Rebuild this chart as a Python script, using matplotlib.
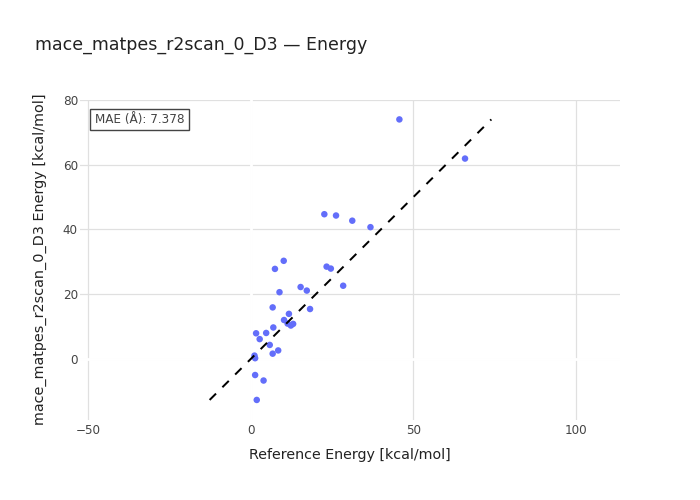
import matplotlib
matplotlib.use("Agg")
import matplotlib.pyplot as plt
import numpy as np

title = "mace_matpes_r2scan_0_D3 \u2014 Energy"
x_label = "Reference Energy [kcal/mol]"
y_label = "mace_matpes_r2scan_0_D3 Energy [kcal/mol]"
mae_text = "MAE (\u00c5): 7.378"

ref_energy = [10.1, 7.4, 23.3, 24.6, 8.8, 15.3, 17.2, 6.7, 18.2, 11.7, 10.2, 11.3, 12.3,
              13.0, 6.9, 1.6, 4.7, 2.7, 5.8, 8.4, 6.7, 1.1, 1.3, 1.3, 3.9, 1.8, 45.7, 65.9,
              22.6, 26.2, 31.2, 36.8, 28.4]
pred_energy = [30.3, 27.8, 28.5, 27.9, 20.6, 22.2, 21.1, 15.9, 15.4, 13.9, 12.0, 10.9, 10.3,
               10.8, 9.7, 7.9, 8.0, 6.1, 4.3, 2.6, 1.6, 1.0, 0.2, -5.0, -6.7, -12.7, 74.0, 61.9,
               44.7, 44.3, 42.7, 40.7, 22.6]

x_ticks = [-50, 0, 50, 100]
y_ticks = [0, 20, 40, 60, 80]

plt.rcParams['font.family'] = ['DejaVu Sans']
W, H = 700, 500
fig = plt.figure(figsize=(W / 100, H / 100), dpi=100)
fig.patch.set_facecolor('white')
ax = fig.add_axes([80 / W, 80 / H, 540 / W, 320 / H])
ax.set_facecolor('white')

ax.set_xlim(-52.6, 113.6)
ax.set_ylim(-18.9, 79.9)
ax.set_xticks(x_ticks)
ax.set_yticks(y_ticks)
ax.set_xticklabels([str(t).replace('-', '\u2212') for t in x_ticks])
ax.set_yticklabels([str(t) for t in y_ticks])
ax.tick_params(length=0, labelsize=8.64, colors='#444444')
ax.tick_params(axis='x', pad=3)
ax.tick_params(axis='y', pad=1.5)
for s in ax.spines.values():
    s.set_visible(False)
ax.grid(True, color='#e0e0e0', linewidth=0.9)
ax.set_axisbelow(True)
ax.axvline(0, color='white', linewidth=2, zorder=1.5)
ax.axhline(0, color='white', linewidth=2, zorder=1.5)

ax.scatter(ref_energy, pred_energy, s=(6.5 * 0.72) ** 2, color='#636efa',
           edgecolors='none', zorder=3)

lo = min(min(ref_energy), min(pred_energy))
hi = max(max(ref_energy), max(pred_energy))
ax.plot([lo, hi], [lo, hi], color='black', linewidth=1.44,
        linestyle=(0, (4.5, 4.5)), zorder=4)

fig.text(35 / W, 1 - 45 / H, title, fontsize=12.5, color='#222222',
         ha='left', va='center')
fig.text(350 / W, 1 - 455 / H, x_label, fontsize=10.3, color='#222222',
         ha='center', va='center')
fig.text(40 / W, 1 - 259 / H, y_label, fontsize=10.4, color='#222222',
         ha='center', va='center', rotation=90)

fig.text(139.5 / W, 1 - 119.5 / H, mae_text, fontsize=8.64, color='#444444',
         ha='center', va='center',
         bbox=dict(boxstyle='square,pad=0.35', facecolor='white',
                   edgecolor='#444444', linewidth=1))

fig.savefig('out.png', dpi=100)
